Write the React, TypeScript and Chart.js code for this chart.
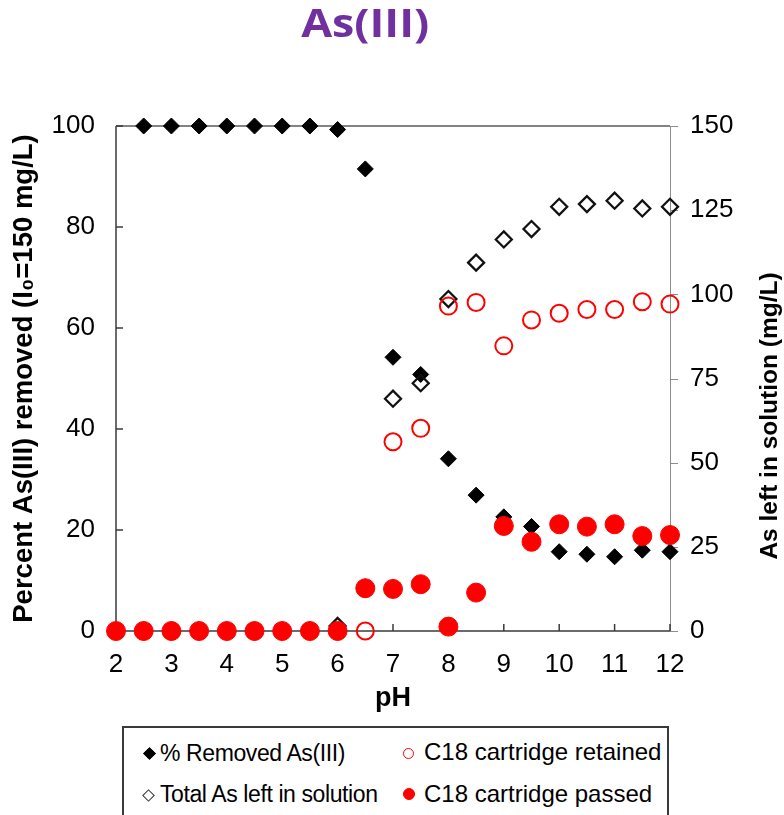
import React, { useEffect, useRef } from 'react';
import { Chart, registerables } from 'chart.js';

Chart.register(...registerables);

// ---------- data ----------
const removedPH = [2.5, 3, 3.5, 4, 4.5, 5, 5.5, 6, 6.5, 7, 7.5, 8, 8.5, 9, 9.5, 10, 10.5, 11, 11.5, 12];
const percentRemoved = [100, 100, 100, 100, 100, 100, 100, 99.3, 91.5, 54.2, 50.8, 34.1, 26.9, 22.6, 20.7, 15.7, 15.2, 14.7, 16.0, 15.7];

const totalPH = [2.5, 3, 3.5, 4, 4.5, 5, 5.5, 6, 6.5, 7, 7.5, 8, 8.5, 9, 9.5, 10, 10.5, 11, 11.5, 12];
const totalAsLeft = [0, 0, 0, 0, 0, 0, 0, 1.5, 12.7, 69.0, 73.6, 98.6, 109.4, 116.3, 119.4, 126.0, 126.8, 127.8, 125.5, 126.0];

const retainedPH = [6.5, 7, 7.5, 8, 8.5, 9, 9.5, 10, 10.5, 11, 11.5, 12];
const c18Retained = [0, 56.2, 60.2, 96.5, 97.6, 84.7, 92.4, 94.4, 95.5, 95.5, 97.8, 97.1];

const passedPH = [2, 2.5, 3, 3.5, 4, 4.5, 5, 5.5, 6, 6.5, 7, 7.5, 8, 8.5, 9, 9.5, 10, 10.5, 11, 11.5, 12];
const c18Passed = [0, 0, 0, 0, 0, 0, 0, 0, 0, 12.7, 12.5, 13.9, 1.3, 11.4, 31.2, 26.5, 31.7, 31.0, 31.7, 28.2, 28.5];

const xTicks = [2, 3, 4, 5, 6, 7, 8, 9, 10, 11, 12];
const leftTicks = [0, 20, 40, 60, 80, 100];
const rightTicks = [0, 25, 50, 75, 100, 125, 150];

const titleText = 'As(III)';
const xTitle = 'pH';
const leftTitle = 'Percent As(III) removed (I\u2080=150 mg/L)';
const rightTitle = 'As left in solution (mg/L)';
const legendLabels = ['% Removed As(III)', 'Total As left in solution', 'C18 cartridge retained', 'C18 cartridge passed'];

const FONT = "'Liberation Sans', Arial, sans-serif";

const toPts = (xs: number[], ys: number[]) => xs.map((x, i) => ({ x, y: ys[i] }));

const framePlugin = {
  id: 'frame',
  beforeDatasetsDraw(chart: any) {
    const { ctx, chartArea: a, scales } = chart;
    const line = (x1: number, y1: number, x2: number, y2: number) => {
      ctx.beginPath();
      ctx.moveTo(x1, y1);
      ctx.lineTo(x2, y2);
      ctx.stroke();
    };
    ctx.save();
    // top frame line
    ctx.strokeStyle = '#5a5a5a';
    ctx.lineWidth = 1.5;
    line(a.left, a.top, a.right, a.top);
    // right axis
    ctx.strokeStyle = '#8c8c8c';
    ctx.lineWidth = 1;
    line(a.right + 0.5, a.top, a.right + 0.5, a.bottom);
    scales.y2.ticks.forEach((t: any) => {
      const py = Math.round(scales.y2.getPixelForValue(t.value)) + 0.5;
      line(a.right, py, a.right + 8, py);
    });
    // left and bottom axes
    ctx.strokeStyle = '#3a3a3a';
    ctx.lineWidth = 1.5;
    line(a.left, a.top, a.left, a.bottom);
    line(a.left, a.bottom, a.right, a.bottom);
    scales.y.ticks.forEach((t: any) => {
      const py = scales.y.getPixelForValue(t.value);
      line(a.left, py, a.left + 7, py);
    });
    scales.x.ticks.forEach((t: any) => {
      const px = scales.x.getPixelForValue(t.value);
      line(px, a.bottom, px, a.bottom - 7);
    });
    ctx.restore();
  },
  afterDraw(chart: any) {
    // right axis title, reading bottom-to-top like the left one
    const { ctx } = chart;
    ctx.save();
    ctx.translate(770, 416);
    ctx.rotate(-Math.PI / 2);
    ctx.font = `bold 24.5px ${FONT}`;
    ctx.fillStyle = '#000';
    ctx.textAlign = 'center';
    ctx.textBaseline = 'middle';
    ctx.fillText(rightTitle, 0, 0);
    ctx.restore();
  },
};

function Diamond({ cx, cy, filled }: { cx: number; cy: number; filled: boolean }) {
  const s = 9;
  return (
    <div
      style={{
        position: 'absolute',
        left: cx - s / 2,
        top: cy - s / 2,
        width: s,
        height: s,
        boxSizing: 'border-box',
        transform: 'rotate(45deg)',
        background: filled ? '#000' : 'transparent',
        border: filled ? '1px solid #000' : '1.5px solid #333',
      }}
    />
  );
}

function Dot({ cx, cy, filled, size }: { cx: number; cy: number; filled: boolean; size: number }) {
  return (
    <div
      style={{
        position: 'absolute',
        left: cx - size / 2,
        top: cy - size / 2,
        width: size,
        height: size,
        boxSizing: 'border-box',
        borderRadius: '50%',
        background: filled ? '#ff0000' : 'transparent',
        border: '1.7px solid #ff0000',
      }}
    />
  );
}

function Label({ x, baseline, size, text, spacing }: { x: number; baseline: number; size: number; text: string; spacing: number }) {
  return (
    <div
      style={{
        position: 'absolute',
        left: x,
        top: baseline - 0.8465 * size,
        fontFamily: FONT,
        fontSize: size,
        lineHeight: 1,
        letterSpacing: spacing,
        whiteSpace: 'nowrap',
        color: '#000',
      }}
    >
      {text}
    </div>
  );
}

export default function App() {
  const ref = useRef<HTMLCanvasElement>(null);

  useEffect(() => {
    document.body.style.margin = '0';
    const canvas = ref.current!;
    const chart = new Chart(canvas, {
      type: 'scatter',
      data: {
        datasets: [
          {
            label: legendLabels[0],
            data: toPts(removedPH, percentRemoved),
            yAxisID: 'y',
            pointStyle: 'rectRot',
            pointRadius: 8,
            backgroundColor: '#000',
            borderColor: '#000',
            borderWidth: 1,
            order: 3,
            clip: false,
          },
          {
            label: legendLabels[1],
            data: toPts(totalPH, totalAsLeft),
            yAxisID: 'y2',
            pointStyle: 'rectRot',
            pointRadius: 8,
            backgroundColor: 'rgba(0,0,0,0)',
            borderColor: '#111',
            borderWidth: 2.3,
            order: 2,
            clip: false,
          },
          {
            label: legendLabels[2],
            data: toPts(retainedPH, c18Retained),
            yAxisID: 'y2',
            pointStyle: 'circle',
            pointRadius: 8.5,
            backgroundColor: 'rgba(0,0,0,0)',
            borderColor: '#ff0000',
            borderWidth: 2,
            order: 1,
            clip: false,
          },
          {
            label: legendLabels[3],
            data: toPts(passedPH, c18Passed),
            yAxisID: 'y2',
            pointStyle: 'circle',
            pointRadius: 9.5,
            backgroundColor: '#ff0000',
            borderColor: '#ff0000',
            borderWidth: 1,
            order: 0,
            clip: false,
          },
        ] as any,
      },
      options: {
        responsive: false,
        animation: false,
        devicePixelRatio: 1,
        layout: { padding: { top: 126, left: 0, right: 0, bottom: 0 } },
        plugins: {
          legend: { display: false },
          title: { display: false },
          tooltip: { enabled: false },
        },
        scales: {
          x: {
            type: 'linear',
            min: 2,
            max: 12,
            afterBuildTicks: (s: any) => {
              s.ticks = xTicks.map((v) => ({ value: v }));
            },
            afterFit: (s: any) => {
              s.height = 84;
            },
            grid: { display: false, drawTicks: false },
            border: { display: false },
            ticks: {
              padding: 18,
              color: '#000',
              font: { family: FONT, size: 26, lineHeight: 1.2 },
              maxRotation: 0,
            },
            title: {
              display: true,
              text: xTitle,
              color: '#000',
              font: { family: FONT, size: 27, weight: 'bold', lineHeight: 1.2 },
              padding: { top: 0, bottom: 0 },
            },
          },
          y: {
            type: 'linear',
            position: 'left',
            min: 0,
            max: 100,
            afterBuildTicks: (s: any) => {
              s.ticks = leftTicks.map((v) => ({ value: v }));
            },
            afterFit: (s: any) => {
              s.width = 116;
            },
            grid: { display: false, drawTicks: false },
            border: { display: false },
            ticks: {
              padding: 21,
              color: '#000',
              font: { family: FONT, size: 26, lineHeight: 1.2 },
            },
            title: {
              display: true,
              text: leftTitle,
              color: '#000',
              font: { family: FONT, size: 27.5, weight: 'bold', lineHeight: 1.2 },
              padding: { top: 8, bottom: 0 },
            },
          },
          y2: {
            type: 'linear',
            position: 'right',
            min: 0,
            max: 150,
            afterBuildTicks: (s: any) => {
              s.ticks = rightTicks.map((v) => ({ value: v }));
            },
            afterFit: (s: any) => {
              s.width = 114;
            },
            grid: { display: false, drawTicks: false },
            border: { display: false },
            ticks: {
              padding: 20,
              color: '#000',
              font: { family: FONT, size: 26, lineHeight: 1.2 },
            },
            title: { display: false },
          },
        },
      } as any,
      plugins: [framePlugin],
    });
    return () => chart.destroy();
  }, []);

  return (
    <div style={{ position: 'relative', width: 784, height: 815, overflow: 'hidden', background: '#fff' }}>
      <canvas ref={ref} width={784} height={715} style={{ position: 'absolute', left: 0, top: 0, width: 784, height: 715 }} />
      <div
        style={{
          position: 'absolute',
          left: 0,
          top: 2,
          width: 730,
          textAlign: 'center',
          fontFamily: "'Open Sans', sans-serif",
          fontWeight: 700,
          fontSize: 40,
          lineHeight: 1,
          color: '#7030a0',
        }}
      >
        <span style={{ display: 'inline-block', transform: 'scaleX(1.12)' }}>{titleText}</span>
      </div>
      <div
        style={{
          position: 'absolute',
          left: 122,
          top: 726,
          width: 547,
          height: 140,
          boxSizing: 'border-box',
          border: '2px solid #3a3a3a',
        }}
      />
      <Diamond cx={149} cy={753} filled={true} />
      <Label x={160} baseline={761} size={23} spacing={-0.4} text={legendLabels[0]} />
      <Diamond cx={148} cy={795} filled={false} />
      <Label x={160} baseline={802} size={23} spacing={-0.4} text={legendLabels[1]} />
      <Dot cx={408} cy={753} filled={false} size={11} />
      <Label x={424} baseline={760} size={24} spacing={0} text={legendLabels[2]} />
      <Dot cx={409} cy={794} filled={true} size={12} />
      <Label x={424} baseline={802} size={24} spacing={0} text={legendLabels[3]} />
    </div>
  );
}
